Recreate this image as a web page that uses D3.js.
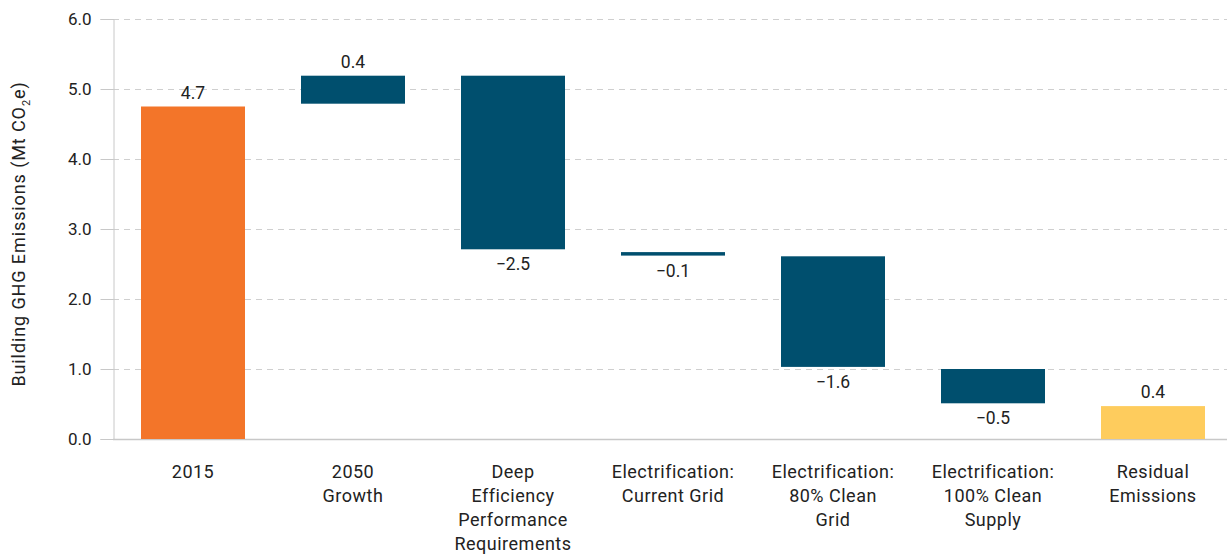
<!DOCTYPE html>
<html>
<head>
<meta charset="utf-8">
<script src="https://cdn.jsdelivr.net/npm/d3@7"></script>
<style>
  body { margin: 0; background: #fff; }
  text { font-family: Roboto, "Noto Sans", sans-serif; fill: #222; }
</style>
</head>
<body>
<div id="chart"></div>
<script>
// waterfall bars, in Mt CO2e (lower and upper edge)
const categories = [
  ["2015"],
  ["2050", "Growth"],
  ["Deep", "Efficiency", "Performance", "Requirements"],
  ["Electrification:", "Current Grid"],
  ["Electrification:", "80% Clean", "Grid"],
  ["Electrification:", "100% Clean", "Supply"],
  ["Residual", "Emissions"]
];
const starts = [0, 4.79, 5.19, 2.67, 2.61, 1.0, 0];
const ends = [4.75, 5.19, 2.71, 2.62, 1.03, 0.51, 0.47];
const kinds = ["start", "step", "step", "step", "step", "step", "end"];
const labels = ["4.7", "0.4", "\u22122.5", "\u22120.1", "\u22121.6", "\u22120.5", "0.4"];
const yTicks = [0, 1, 2, 3, 4, 5, 6];

const W = 1227, H = 556;
const margin = {top: 19, right: 0, bottom: 117, left: 113};
const y0 = H - margin.bottom;

const bars = starts.map((s, i) => ({
  i,
  lo: Math.min(s, ends[i]),
  hi: Math.max(s, ends[i]),
  neg: ends[i] < s,
  kind: kinds[i]
}));

const fills = {start: "#f37529", step: "#004f6e", end: "#fecc5d"};

const svg = d3.select("#chart").append("svg")
    .attr("width", W)
    .attr("height", H);

const x = d3.scaleBand()
    .domain(d3.range(categories.length))
    .range([margin.left, 1233])
    .paddingInner(0.35)
    .paddingOuter(0.175);

const y = d3.scaleLinear()
    .domain([0, 6])
    .range([y0, margin.top]);

// grid
svg.append("g")
  .selectAll("line")
  .data(yTicks.filter(t => t > 0))
  .join("line")
    .attr("x1", margin.left)
    .attr("x2", W)
    .attr("y1", d => y(d) + 0.5)
    .attr("y2", d => y(d) + 0.5)
    .attr("stroke", "#cfcfcf")
    .attr("stroke-dasharray", "6,5");

// y axis
const yAxis = svg.append("g")
    .attr("transform", `translate(${margin.left + 0.5},0)`)
    .call(d3.axisLeft(y).tickValues(yTicks).tickFormat(d3.format(".1f")).tickSize(13).tickPadding(9));
yAxis.select(".domain").attr("stroke", "#c8c8c8");
yAxis.selectAll(".tick line").attr("stroke", "#c8c8c8");
yAxis.selectAll(".tick text")
    .attr("font-size", 17)
    .attr("fill", "#222")
    .attr("font-family", "Roboto, sans-serif");

// baseline
svg.append("line")
    .attr("x1", margin.left)
    .attr("x2", W)
    .attr("y1", y(0) + 0.5)
    .attr("y2", y(0) + 0.5)
    .attr("stroke", "#c8c8c8")
    .attr("stroke-width", 1.5);

// bars
svg.append("g")
  .selectAll("rect")
  .data(bars)
  .join("rect")
    .attr("x", d => x(d.i))
    .attr("width", x.bandwidth())
    .attr("y", d => y(d.hi))
    .attr("height", d => Math.max(3, y(d.lo) - y(d.hi)))
    .attr("fill", d => fills[d.kind]);

// value labels
svg.append("g")
  .selectAll("text")
  .data(bars)
  .join("text")
    .attr("x", d => x(d.i) + x.bandwidth() / 2)
    .attr("y", d => d.neg ? Math.max(y(d.lo), y(d.hi) + 3) + 21 : y(d.hi) - 8)
    .attr("text-anchor", "middle")
    .attr("font-size", 17.5)
    .text((d, i) => labels[i]);

// category labels
const cat = svg.append("g")
  .selectAll("text")
  .data(categories)
  .join("text")
    .attr("x", (d, i) => x(i) + x.bandwidth() / 2)
    .attr("y", y0 + 39)
    .attr("text-anchor", "middle")
    .attr("font-family", "Inter, sans-serif")
    .attr("font-size", 18)
    .attr("letter-spacing", 0.5);
cat.selectAll("tspan")
  .data(d => d)
  .join("tspan")
    .attr("x", function() { return this.parentNode.getAttribute("x"); })
    .attr("dy", (d, j) => j === 0 ? 0 : 24)
    .text(d => d);

// y title
const yt = svg.append("text")
    .attr("transform", `translate(25,234) rotate(-90)`)
    .attr("text-anchor", "middle")
    .attr("font-family", "Inter, sans-serif")
    .attr("font-size", 18)
    .attr("letter-spacing", 0.9);
yt.append("tspan").text("Building GHG Emissions (Mt CO");
yt.append("tspan").attr("font-size", 11).attr("dy", 5).text("2");
yt.append("tspan").attr("dy", -5).text("e)");
</script>
</body>
</html>
